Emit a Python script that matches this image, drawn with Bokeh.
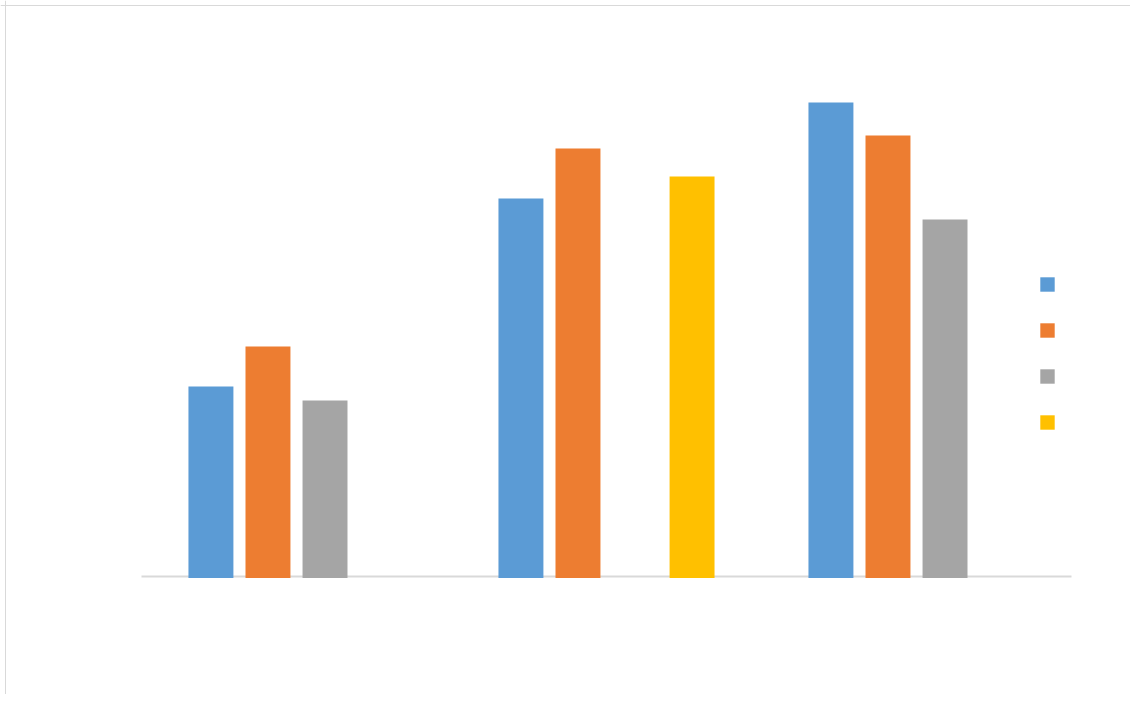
from bokeh.plotting import figure
from bokeh.models import ColumnDataSource, Range1d, Legend, LegendItem, Span
from bokeh.embed import file_html
from bokeh.resources import INLINE

categories = ["A", "B", "C"]
series_names = ["", " ", "  ", "   "]
series_colors = ["#5B9BD5", "#ED7D31", "#A5A5A5", "#FFC000"]
series_1 = [19.0, 37.8, 47.4]
series_2 = [23.0, 42.8, 44.1]
series_3 = [17.6, None, 35.7]
series_4 = [None, 40.0, None]
all_series = [series_1, series_2, series_3, series_4]

W, H = 1130, 694
p = figure(width=W, height=H, output_backend="svg", toolbar_location=None,
           x_range=Range1d(-0.4548, 3.1903), y_range=Range1d(-11.8, 57.6),
           min_border=0, outline_line_color=None)
p.axis.visible = False
p.grid.visible = False
p.background_fill_color = "white"
p.border_fill_color = "white"

# frame borders (left and top)
p.add_layout(Span(location=-0.4387, dimension="height", line_color="#d9d9d9", line_width=1))
p.add_layout(Span(location=57.1, dimension="width", line_color="#d9d9d9", line_width=1))

# baseline
n = len(categories)
p.segment(x0=[0], x1=[n], y0=[0], y1=[0], line_color="#d9d9d9", line_width=2)

slot = 0.184
bw = 0.145
items = []
for k, (vals, col, name) in enumerate(zip(all_series, series_colors, series_names)):
    xs = [i + 0.5 + (k - 1.5) * slot for i in range(n)]
    tops = [float("nan") if v is None else v for v in vals]
    src = ColumnDataSource(dict(x=xs, top=tops))
    r = p.vbar(x="x", top="top", bottom=-0.15, width=bw, source=src,
               fill_color=col, line_color=None)
    items.append(LegendItem(label=name, renderers=[r]))

legend = Legend(items=items, location=(1038, 263), padding=0, margin=0,
                spacing=28, glyph_width=18, glyph_height=18,
                border_line_alpha=0, background_fill_alpha=0,
                label_text_font_size="1px", label_standoff=0, label_width=1, label_height=18)
p.add_layout(legend, "center")

open("out.html", "w").write(file_html(p, INLINE))
